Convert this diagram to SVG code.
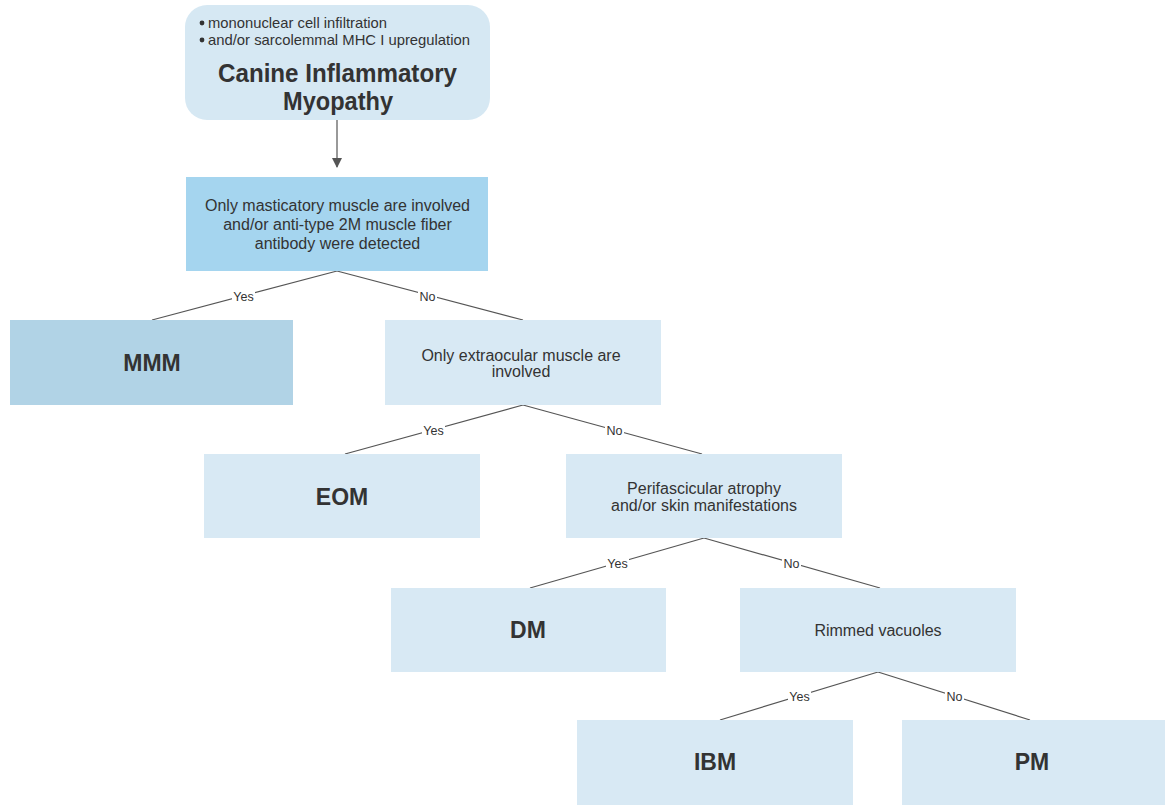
<svg xmlns="http://www.w3.org/2000/svg" width="1165" height="805" viewBox="0 0 1165 805">
<style>
.lt{fill:#d8e9f4}
.t{font-family:"Liberation Sans",Arial,sans-serif;fill:#333;text-anchor:middle}
.s{font-size:16px}
.b{font-size:23px;font-weight:bold}
.lb{font-family:"Liberation Sans",Arial,sans-serif;fill:#333;font-size:12.5px;text-anchor:middle}
.c{stroke:#555;stroke-width:1.2;fill:none}
.w{fill:#fff}
</style>
<defs>
<marker id="ah" markerWidth="10" markerHeight="10" refX="9" refY="5" orient="auto" markerUnits="userSpaceOnUse">
<path d="M0,0 L10,5 L0,10 z" fill="#555"/>
</marker>
</defs>
<rect width="1165" height="805" fill="#fff"/>
<g id="connectors">
<line class="c" x1="337" y1="120" x2="337" y2="167" marker-end="url(#ah)"/>
<line class="c" x1="337" y1="271" x2="152" y2="320"/>
<line class="c" x1="337" y1="271" x2="523" y2="320"/>
<line class="c" x1="523" y1="405" x2="345" y2="454"/>
<line class="c" x1="523" y1="405" x2="702" y2="454"/>
<line class="c" x1="704" y1="538" x2="530" y2="588"/>
<line class="c" x1="704" y1="538" x2="880" y2="588"/>
<line class="c" x1="878" y1="672" x2="720" y2="720"/>
<line class="c" x1="878" y1="672" x2="1030" y2="720"/>
<g>
<rect class="w" x="232" y="290" width="23" height="13"/><text class="lb" x="243.5" y="301">Yes</text>
<rect class="w" x="418" y="290" width="19" height="13"/><text class="lb" x="427.5" y="301">No</text>
<rect class="w" x="422" y="424" width="23" height="13"/><text class="lb" x="433.5" y="435">Yes</text>
<rect class="w" x="605" y="424" width="19" height="13"/><text class="lb" x="614.5" y="435">No</text>
<rect class="w" x="606" y="557" width="23" height="13"/><text class="lb" x="617.5" y="568">Yes</text>
<rect class="w" x="782" y="557" width="19" height="13"/><text class="lb" x="791.5" y="568">No</text>
<rect class="w" x="788" y="690" width="23" height="13"/><text class="lb" x="799.5" y="701">Yes</text>
<rect class="w" x="945" y="690" width="19" height="13"/><text class="lb" x="954.5" y="701">No</text>
</g>
</g>
<g id="root">
<rect x="185" y="5" width="305" height="115" rx="22" fill="#d6e8f3"/>
<circle cx="202" cy="23" r="2.4" fill="#333"/>
<circle cx="202" cy="40" r="2.4" fill="#333"/>
<text x="208" y="27.5" font-family="Liberation Sans,Arial,sans-serif" font-size="15" fill="#333" textLength="179" lengthAdjust="spacingAndGlyphs">mononuclear cell infiltration</text>
<text x="208" y="44.5" font-family="Liberation Sans,Arial,sans-serif" font-size="15" fill="#333" textLength="262" lengthAdjust="spacingAndGlyphs">and/or sarcolemmal MHC I upregulation</text>
<text class="t" x="337.5" y="82" font-size="26" font-weight="bold" textLength="239" lengthAdjust="spacingAndGlyphs">Canine Inflammatory</text>
<text class="t" x="338" y="110" font-size="26" font-weight="bold" textLength="110" lengthAdjust="spacingAndGlyphs">Myopathy</text>
</g>
<g id="q1">
<rect x="186" y="177" width="302" height="94" fill="#a5d5ef"/>
<text class="t s" x="337.5" y="211">Only masticatory muscle are involved</text>
<text class="t s" x="337.5" y="230">and/or anti-type 2M muscle fiber</text>
<text class="t s" x="337.5" y="249">antibody were detected</text>
</g>
<g id="mmm">
<rect x="10" y="320" width="283" height="85" fill="#b1d3e6"/>
<text class="t b" x="152" y="371">MMM</text>
</g>
<g id="q2">
<rect class="lt" x="385" y="320" width="276" height="85"/>
<text class="t s" x="521" y="361">Only extraocular muscle are</text>
<text class="t s" x="521" y="377">involved</text>
</g>
<g id="eom">
<rect class="lt" x="204" y="454" width="276" height="84"/>
<text class="t b" x="342" y="505">EOM</text>
</g>
<g id="q3">
<rect class="lt" x="566" y="454" width="276" height="84"/>
<text class="t s" x="704" y="494">Perifascicular atrophy</text>
<text class="t s" x="704" y="511">and/or skin manifestations</text>
</g>
<g id="dm">
<rect class="lt" x="391" y="588" width="275" height="84"/>
<text class="t b" x="528" y="638">DM</text>
</g>
<g id="q4">
<rect class="lt" x="740" y="588" width="276" height="84"/>
<text class="t s" x="878" y="636">Rimmed vacuoles</text>
</g>
<g id="ibm">
<rect class="lt" x="577" y="720" width="276" height="85"/>
<text class="t b" x="715" y="770">IBM</text>
</g>
<g id="pm">
<rect class="lt" x="902" y="720" width="263" height="85"/>
<text class="t b" x="1032" y="770">PM</text>
</g>
</svg>
